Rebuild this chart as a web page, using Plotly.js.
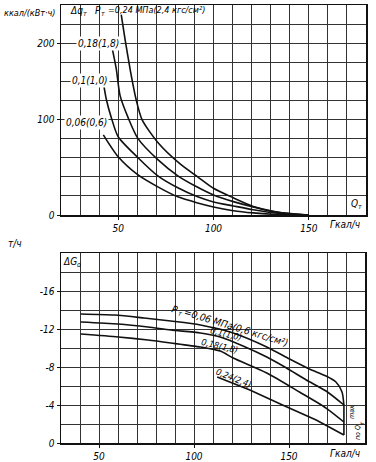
<!DOCTYPE html>
<html><head><meta charset="utf-8">
<script src="https://cdn.plot.ly/plotly-3.0.1.min.js"></script>
<style>html,body{margin:0;padding:0;background:#fff}#c{width:376px;height:462px}</style>
</head><body><div id="c"></div>
<script>
// ---- Top chart: Δq_т vs Q_т (x in Гкал/ч, y in ккал/(кВт·ч)) ----
const q024_x = [51.6, 53.6, 56.5, 59.4, 62.5, 70.8, 82.8, 91.7, 100, 110.4, 120.8, 131.3, 141.7, 150];
const q024_y = [210, 184, 150, 121, 100, 76, 53, 40, 28, 18, 9, 3.5, 1, 0];
const q018_x = [46.4, 49, 51, 55.2, 60.4, 70.8, 81.3, 91.7, 100, 110.4, 120.8, 135, 150];
const q018_y = [179, 153, 125, 102, 80, 58, 41, 29, 21, 14, 8.5, 2.5, 0];
const q010_x = [42.2, 43.8, 46.4, 50, 60.4, 70.8, 81.3, 91.7, 100, 110.4, 120.8, 135, 150];
const q010_y = [139, 121, 102, 82, 60, 41, 28.5, 19, 13.7, 9.5, 5.5, 1.5, 0];
const q006_x = [42.2, 50, 60.4, 70.8, 81.3, 91.7, 100, 110.4, 120.8, 131, 150];
const q006_y = [84, 61, 42, 29.5, 19, 12.6, 8.4, 4.5, 2.2, 0.8, 0];
const topXTicks = [50, 100, 150];
const topXTickText = ['50', '100', '150'];
const topYTicks = [0, 100, 180];
const topYTickText = ['0', '100', '200'];

// ---- Bottom chart: ΔG_o vs Q_т (x in Гкал/ч, y in т/ч) ----
const g006_x = [40.4, 58.1, 73.7, 87.8, 103.4, 120.6, 138.3, 150.3, 160.7, 169.5, 174.7, 177.9, 178.9];
const g006_y = [-13.58, -13.47, -13.16, -12.84, -12.42, -11.58, -10.11, -8.84, -7.79, -7.05, -6.42, -5.37, -4.0];
const g010_x = [40.4, 60.2, 75.8, 87.8, 103.4, 113.8, 125.8, 138.3, 148.7, 159.1, 169.5, 178.9];
const g010_y = [-12.74, -12.53, -12.21, -11.89, -11.58, -11.16, -10.21, -9.05, -7.89, -6.63, -5.47, -4.0];
const g018_x = [40.4, 60.2, 75.8, 87.8, 103.4, 113.8, 120.6, 138.3, 155.5, 169.5, 178.9];
const g018_y = [-11.47, -11.16, -10.84, -10.53, -10.1, -9.68, -8.95, -7.37, -5.37, -3.68, -2.21];
const g024_x = [112.2, 129.4, 146.6, 164.3, 178.9];
const g024_y = [-6.95, -5.58, -4.0, -2.42, -0.84];
const gmax_x = [178.9, 178.9];
const gmax_y = [-4.0, -0.84];
const botXTicks = [50, 100, 150];
const botXTickText = ['50', '100', '150'];
const botYTicks = [0, -4, -8, -12, -16];
const botYTickText = ['0', '-4', '-8', '-12', '-16'];

const W = 376, H = 462;
const FAM = 'DejaVu Sans Condensed, DejaVu Sans, sans-serif';
const font = (s) => ({family: FAM, size: s || 10, color: '#000', style: 'italic'});
const line = {color: '#111', width: 1.6, shape: 'spline', smoothing: 0.7};

function tr(x, y, xa, ya, shape) {
  return {x, y, xaxis: xa, yaxis: ya, type: 'scatter', mode: 'lines',
    line: Object.assign({}, line, shape ? {shape} : {}), hoverinfo: 'skip', showlegend: false};
}
const data = [
  tr(q024_x, q024_y, 'x', 'y'), tr(q018_x, q018_y, 'x', 'y'),
  tr(q010_x, q010_y, 'x', 'y'), tr(q006_x, q006_y, 'x', 'y'),
  tr(g006_x, g006_y, 'x2', 'y2'), tr(g010_x, g010_y, 'x2', 'y2'),
  tr(g018_x, g018_y, 'x2', 'y2'), tr(g024_x, g024_y, 'x2', 'y2', 'linear'),
  tr(gmax_x, gmax_y, 'x2', 'y2', 'linear')
];

function axis(dom, range, tv, tt, minorDt, anchor) {
  return {domain: dom, range, tickmode: 'array', tickvals: tv, ticktext: tt,
    showgrid: true, gridcolor: '#333', gridwidth: 1, zeroline: false,
    showline: true, linecolor: '#111', linewidth: 1.5, mirror: true,
    ticks: 'outside', ticklen: 3, tickcolor: '#111', tickfont: font(10),
    minor: {tick0: 0, dtick: minorDt, showgrid: true, gridcolor: '#333', gridwidth: 1},
    anchor, fixedrange: true};
}
const px = (v) => v / W, py = (v) => 1 - v / H;

function ann(text, x, y, o) {
  return Object.assign({text, x: px(x), y: py(y), xref: 'paper', yref: 'paper', showarrow: false,
    font: font(10), xanchor: 'center', yanchor: 'middle'}, o || {});
}
const WB = {bgcolor: '#fff'};

// rotated label pieces along the P_т = 0,06 line
const th = 17 * Math.PI / 180, dx = Math.cos(th), dy = Math.sin(th);
const sx = 171.7, sy = 308.2;
const along = (d, p) => [sx + d * dx - p * dy, sy + d * dy + p * dx];
const pP = along(3.5, 0), pT = along(9.5, 3), pR = along(67.5, 0);

const layout = {
  width: W, height: H, margin: {l: 0, r: 0, t: 0, b: 0},
  paper_bgcolor: '#fff', plot_bgcolor: '#fff', showlegend: false,
  xaxis: axis([px(61), px(366)], [20, 180], topXTicks, topXTickText, 10, 'y'),
  yaxis: axis([py(215), py(5)], [0, 220], topYTicks, topYTickText, 20, 'x'),
  xaxis2: axis([px(61), px(365)], [30, 190], botXTicks, botXTickText, 10, 'y2'),
  yaxis2: axis([py(443), py(253)], [0, -20], botYTicks, botYTickText, 2, 'x2'),
  annotations: [
    ann('ккал/(кВт·ч)', 30, 13, {font: font(9)}),
    ann('Δq', 76, 10),
    ann('т', 85, 14, {font: font(7)}),
    ann('P', 98, 10),
    ann('т', 103, 14, {font: font(7)}),
    ann('=0,24 МПа(2,4 кгс/см²)', 106, 10, {xanchor: 'left', font: font(9)}),
    ann('0,18(1,8)', 99, 43, WB),
    ann('0,1(1,0)', 90, 80, WB),
    ann('0,06(0,6)', 86, 123, WB),
    ann('Q', 354, 203, WB),
    ann('т', 360, 207, {font: font(7)}),
    ann('Гкал/ч', 345, 224),
    ann('т/ч', 15, 243),
    ann('ΔG', 70, 261, WB),
    ann('o', 79, 265, {font: font(7)}),
    ann('P', pP[0], pP[1], {textangle: 17}),
    ann('т', pT[0], pT[1], {textangle: 17, font: font(7)}),
    ann('=0,06 МПа(0,6 кгс/см²)', pR[0], pR[1], {textangle: 17}),
    ann('0,1(1,0)', 226, 334, {textangle: 14, font: font(9)}),
    ann('0,18(1,8)', 219, 346, {textangle: 13, font: font(9)}),
    ann('0,24(2,4)', 233, 378, {textangle: 22, font: font(9)}),
    ann('max', 352, 412, {textangle: -90, font: font(7)}),
    ann('по Q', 358, 433, {textangle: -90, font: font(7)}),
    ann('т', 361, 423, {textangle: -90, font: font(6)}),
    ann('Гкал/ч', 345, 453)
  ]
};
Plotly.newPlot('c', data, layout, {staticPlot: true, displayModeBar: false});
</script></body></html>
